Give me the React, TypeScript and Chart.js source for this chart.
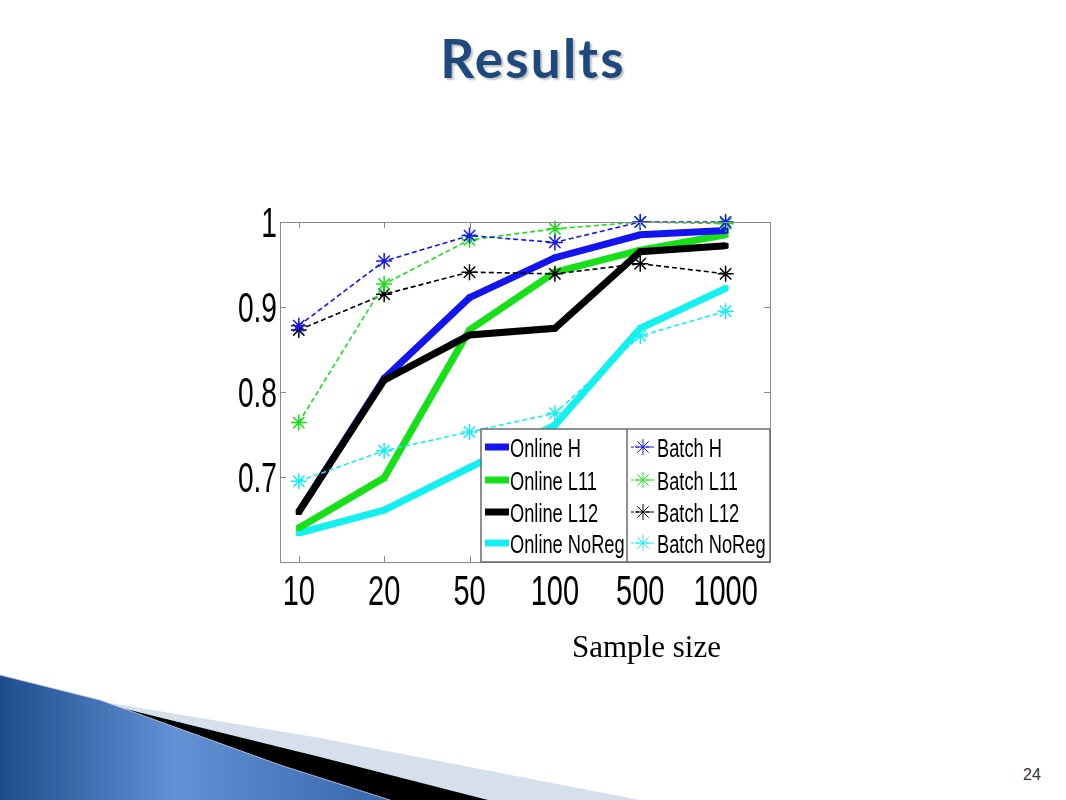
import React, { useEffect, useRef } from "react";
import { Chart, registerables } from "chart.js";

Chart.register(...registerables);

const sampleSizes = ["10", "20", "50", "100", "500", "1000"];
const yTickValues = [0.7, 0.8, 0.9, 1.0];
const yTickLabels = ["0.7", "0.8", "0.9", "1"];

const onlineH = [0.659, 0.816, 0.911, 0.958, 0.985, 0.99];
const onlineL11 = [0.64, 0.699, 0.873, 0.941, 0.967, 0.985];
const onlineL12 = [0.659, 0.814, 0.867, 0.875, 0.965, 0.972];
const onlineNoReg = [0.634, 0.661, 0.711, 0.761, 0.875, 0.922];

const batchH = [0.878, 0.954, 0.984, 0.976, 1.0, 1.0];
const batchL11 = [0.764, 0.927, 0.979, 0.992, 1.0, 0.998];
const batchL12 = [0.873, 0.915, 0.941, 0.939, 0.951, 0.939];
const batchNoReg = [0.695, 0.731, 0.753, 0.775, 0.866, 0.895];

const BLUE = "#1414F0";
const GREEN = "#18E018";
const BLACK = "#000000";
const CYAN = "#14F0F0";

const SANS = "'Liberation Sans', Arial, sans-serif";

const toPoints = (arr: number[]) => arr.map((v, i) => ({ x: i, y: v }));

const onlineDs = (label: string, data: number[], color: string, order: number) => ({
  label,
  data: toPoints(data),
  borderColor: color,
  backgroundColor: color,
  borderWidth: 7,
  pointStyle: "rect",
  pointRadius: 3.5,
  pointBorderWidth: 1,
  pointBackgroundColor: color,
  pointBorderColor: color,
  order,
  clip: false,
  tension: 0,
  isOnline: true,
});

const batchDs = (label: string, data: number[], color: string) => ({
  label,
  data: toPoints(data),
  borderColor: color,
  backgroundColor: color,
  borderWidth: 1.6,
  borderDash: [5, 3],
  pointStyle: "star",
  pointRadius: 8,
  pointBorderWidth: 1.5,
  pointBorderColor: color,
  order: 0,
  clip: false,
  tension: 0,
  isOnline: false,
});

// draw text horizontally condensed (the original figure's lettering is squeezed)
function condensedText(ctx: any, text: string, x: number, y: number, sx: number, align: "left" | "center" | "right") {
  ctx.save();
  ctx.translate(x, y);
  ctx.scale(sx, 1);
  ctx.textAlign = align;
  ctx.textBaseline = "alphabetic";
  ctx.fillText(text, 0, 0);
  ctx.restore();
}

const tickLabels = {
  id: "tickLabels",
  afterDraw(chart: any) {
    const { ctx, chartArea: a, scales } = chart;
    ctx.save();
    ctx.fillStyle = "#000";
    ctx.font = "42px " + SANS;
    scales.x.ticks.forEach((t: any, i: number) => {
      const px = scales.x.getPixelForValue(t.value);
      condensedText(ctx, sampleSizes[i], px, a.bottom + 43, 0.69, "center");
    });
    scales.y.ticks.forEach((t: any, i: number) => {
      const py = scales.y.getPixelForValue(t.value);
      condensedText(ctx, yTickLabels[i], a.left - 3, py + 15, 0.67, "right");
    });
    ctx.restore();
  },
};

const frameAndLegend = {
  id: "frameAndLegend",
  afterDatasetsDraw(chart: any) {
    const { ctx, chartArea: a, scales } = chart;
    ctx.save();
    ctx.strokeStyle = "#8a8a8a";
    ctx.lineWidth = 1;
    ctx.strokeRect(a.left + 0.5, a.top + 0.5, a.right - a.left, a.bottom - a.top);
    const tl = 6;
    ctx.beginPath();
    scales.x.ticks.forEach((t: any) => {
      const px = Math.round(scales.x.getPixelForValue(t.value)) + 0.5;
      ctx.moveTo(px, a.bottom);
      ctx.lineTo(px, a.bottom - tl);
      ctx.moveTo(px, a.top);
      ctx.lineTo(px, a.top + tl);
    });
    scales.y.ticks.forEach((t: any) => {
      const py = Math.round(scales.y.getPixelForValue(t.value)) + 0.5;
      ctx.moveTo(a.left, py);
      ctx.lineTo(a.left + tl, py);
      ctx.moveTo(a.right, py);
      ctx.lineTo(a.right - tl, py);
    });
    ctx.stroke();

    const bx = a.left + 201;
    const by = a.top + 207;
    const bw = a.right - bx;
    const bh = a.bottom - by;
    const divX = bx + 146;
    ctx.fillStyle = "#ffffff";
    ctx.fillRect(bx, by, bw, bh);
    ctx.strokeStyle = "#6a6a6a";
    ctx.lineWidth = 1.5;
    ctx.strokeRect(bx, by, bw, bh);
    ctx.beginPath();
    ctx.moveTo(divX, by);
    ctx.lineTo(divX, by + bh);
    ctx.stroke();

    const ds = chart.data.datasets;
    const online = ds.filter((d: any) => d.isOnline);
    const batch = ds.filter((d: any) => !d.isOnline);
    const rowY = [18, 51, 83, 114];
    ctx.font = "25px " + SANS;
    online.forEach((d: any, i: number) => {
      const y = by + rowY[i];
      ctx.strokeStyle = d.borderColor;
      ctx.lineWidth = 7;
      ctx.setLineDash([]);
      ctx.beginPath();
      ctx.moveTo(bx + 4, y);
      ctx.lineTo(bx + 28, y);
      ctx.stroke();
      ctx.fillStyle = "#000";
      condensedText(ctx, d.label, bx + 29, y + 10, 0.73, "left");
    });
    batch.forEach((d: any, i: number) => {
      const y = by + rowY[i];
      const x0 = divX + 4;
      const x1 = divX + 28;
      ctx.strokeStyle = d.borderColor;
      ctx.lineWidth = 1.2;
      ctx.setLineDash([3, 2]);
      ctx.beginPath();
      ctx.moveTo(x0, y);
      ctx.lineTo(x1, y);
      ctx.stroke();
      ctx.setLineDash([]);
      const cx = (x0 + x1) / 2;
      const r = 8;
      ctx.lineWidth = 1;
      ctx.beginPath();
      for (let k = 0; k < 4; k++) {
        const ang = (k * Math.PI) / 4;
        ctx.moveTo(cx - r * Math.cos(ang), y - r * Math.sin(ang));
        ctx.lineTo(cx + r * Math.cos(ang), y + r * Math.sin(ang));
      }
      ctx.stroke();
      ctx.fillStyle = "#000";
      condensedText(ctx, d.label, x1 + 2, y + 10, 0.73, "left");
    });
    ctx.restore();
  },
};

function ResultsChart() {
  const ref = useRef<HTMLCanvasElement | null>(null);
  useEffect(() => {
    if (!ref.current) return;
    const chart = new Chart(ref.current, {
      type: "line",
      data: {
        datasets: [
          batchDs("Batch H", batchH, BLUE),
          batchDs("Batch L11", batchL11, GREEN),
          batchDs("Batch L12", batchL12, BLACK),
          batchDs("Batch NoReg", batchNoReg, CYAN),
          onlineDs("Online H", onlineH, BLUE, 2),
          onlineDs("Online L11", onlineL11, GREEN, 3),
          onlineDs("Online L12", onlineL12, BLACK, 1),
          onlineDs("Online NoReg", onlineNoReg, CYAN, 4),
        ] as any,
      },
      options: {
        animation: false,
        responsive: false,
        maintainAspectRatio: false,
        layout: { padding: { left: 0, right: 30, top: 42, bottom: 0 } },
        plugins: { legend: { display: false }, tooltip: { enabled: false } },
        scales: {
          x: {
            type: "linear",
            min: -0.22,
            max: 5.52,
            afterBuildTicks: (s: any) => {
              s.ticks = sampleSizes.map((_, i) => ({ value: i }));
            },
            afterFit: (s: any) => {
              s.height = 78;
            },
            grid: { display: false, drawTicks: false },
            border: { display: false },
            ticks: { display: false },
          },
          y: {
            min: 0.6,
            max: 1.0,
            afterBuildTicks: (s: any) => {
              s.ticks = yTickValues.map((v) => ({ value: v }));
            },
            afterFit: (s: any) => {
              s.width = 80;
            },
            grid: { display: false, drawTicks: false },
            border: { display: false },
            ticks: { display: false },
          },
        },
      } as any,
      plugins: [frameAndLegend, tickLabels],
    });
    return () => chart.destroy();
  }, []);
  return (
    <canvas
      ref={ref}
      width={600}
      height={460}
      style={{ position: "absolute", left: 200, top: 180, width: 600, height: 460 }}
    />
  );
}

export default function App() {
  return (
    <div
      style={{
        position: "absolute",
        left: 0,
        top: 0,
        width: 1066,
        height: 800,
        background: "#ffffff",
        overflow: "hidden",
      }}
    >
      <svg width={1066} height={800} style={{ position: "absolute", left: 0, top: 0 }}>
        <defs>
          <linearGradient id="blueGrad" x1="0" y1="0" x2="1" y2="0">
            <stop offset="0" stopColor="#1E4D8E" />
            <stop offset="0.45" stopColor="#6391D3" />
            <stop offset="1" stopColor="#3666AC" />
          </linearGradient>
        </defs>
        <polygon points="110,703 320,738 640,800 110,800" fill="#D6DFEC" />
        <polygon points="57,692 320,757 488,800 57,800" fill="#000000" />
        <polygon points="0,675 100,700 280,765 390,800 0,800" fill="url(#blueGrad)" />
        <polyline points="0,675 100,700 280,765 390,800" fill="none" stroke="#c9d6ea" strokeWidth={0.8} />
      </svg>
      <div
        style={{
          position: "absolute",
          left: 0,
          width: 1066,
          top: 31,
          textAlign: "center",
          fontFamily: "Lato, 'Open Sans', sans-serif",
          fontWeight: 700,
          fontSize: 53,
          lineHeight: "53px",
          letterSpacing: 2.2,
          color: "#1F497D",
          textShadow: "2px 2px 2px rgba(0,0,0,0.25)",
        }}
      >
        Results
      </div>
      <ResultsChart />
      <div
        style={{
          position: "absolute",
          left: 572,
          top: 631,
          fontFamily: "'Liberation Serif', 'Times New Roman', serif",
          fontSize: 31,
          lineHeight: "31px",
          color: "#000",
          whiteSpace: "nowrap",
        }}
      >
        Sample size
      </div>
      <div
        style={{
          position: "absolute",
          left: 1023,
          top: 767,
          fontFamily: "'Liberation Sans', Arial, sans-serif",
          fontSize: 16,
          lineHeight: "16px",
          color: "#333",
        }}
      >
        24
      </div>
    </div>
  );
}
